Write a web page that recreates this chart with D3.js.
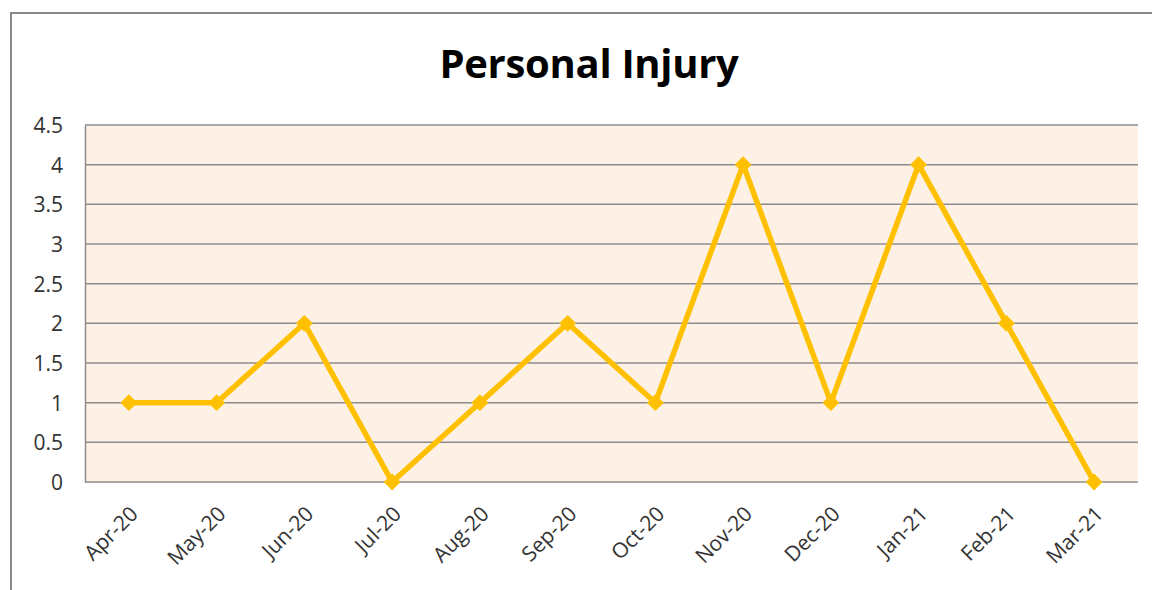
<!DOCTYPE html>
<html>
<head>
<meta charset="utf-8">
<script src="https://cdn.jsdelivr.net/npm/d3@7"></script>
<style>
  body { margin: 0; background: #fff; }
  svg { display: block; }
  .tick text { font-family: "Open Sans", "Liberation Sans", sans-serif; font-size: 21px; fill: #333; }
</style>
</head>
<body>
<div id="chart"></div>
<script>
// Chart data
const months = ["Apr-20", "May-20", "Jun-20", "Jul-20", "Aug-20", "Sep-20",
                "Oct-20", "Nov-20", "Dec-20", "Jan-21", "Feb-21", "Mar-21"];
const injuries = [1, 1, 2, 0, 1, 2, 1, 4, 1, 4, 2, 0];
const yTicks = [0, 0.5, 1, 1.5, 2, 2.5, 3, 3.5, 4, 4.5];

const W = 1152, H = 590;
const plot = {left: 85, right: 1138, top: 125, bottom: 482};

const svg = d3.select("#chart").append("svg")
    .attr("width", W)
    .attr("height", H);

// Outer chart border (runs off the right and bottom edges)
svg.append("rect")
    .attr("x", 11).attr("y", 13)
    .attr("width", 1160).attr("height", 600)
    .attr("fill", "none")
    .attr("stroke", "#8a8a8a")
    .attr("stroke-width", 2);

// Title
svg.append("text")
    .attr("x", 589).attr("y", 78)
    .attr("text-anchor", "middle")
    .style("font-family", "'Open Sans', 'Liberation Sans', sans-serif")
    .style("font-weight", "bold")
    .style("font-size", "40px")
    .style("letter-spacing", "-0.3px")
    .attr("fill", "#000")
    .text("Personal Injury");

const x = d3.scaleBand()
    .domain(months)
    .range([plot.left, plot.right]);

const y = d3.scaleLinear()
    .domain([0, 4.5])
    .range([plot.bottom, plot.top]);

// Plot background
svg.append("rect")
    .attr("x", plot.left).attr("y", plot.top)
    .attr("width", plot.right - plot.left)
    .attr("height", plot.bottom - plot.top)
    .attr("fill", "#fdf1e6");

// Gridlines
svg.append("g")
    .selectAll("line")
    .data(yTicks)
    .enter().append("line")
    .attr("x1", plot.left).attr("x2", plot.right)
    .attr("y1", d => y(d)).attr("y2", d => y(d))
    .attr("stroke", "#8c8c8c")
    .attr("stroke-width", 1.5);

// Y axis
const yAxis = svg.append("g")
    .attr("transform", `translate(${plot.left},0)`)
    .call(d3.axisLeft(y).tickValues(yTicks).tickSize(0).tickPadding(22).tickFormat(d3.format("")));
yAxis.select(".domain").attr("stroke", "#8c8c8c").attr("stroke-width", 1.5);
yAxis.selectAll("text").attr("dy", "0.35em");

// X axis
const xAxis = svg.append("g")
    .attr("transform", `translate(0,${plot.bottom})`)
    .call(d3.axisBottom(x).tickSize(0));
xAxis.select(".domain").remove();
xAxis.selectAll("text")
    .attr("text-anchor", "end")
    .attr("transform", "translate(3,26) rotate(-45)")
    .attr("dy", "0.35em");

// Line
const line = d3.line()
    .x((d, i) => x(months[i]) + x.bandwidth() / 2)
    .y(d => y(d));

svg.append("path")
    .datum(injuries)
    .attr("d", line)
    .attr("fill", "none")
    .attr("stroke", "#ffc000")
    .attr("stroke-width", 5.5)
    .attr("stroke-linejoin", "round");

// Diamond markers
svg.append("g")
    .selectAll("path")
    .data(injuries)
    .enter().append("path")
    .attr("d", d3.symbol().type(d3.symbolDiamond2).size(180))
    .attr("transform", (d, i) => `translate(${x(months[i]) + x.bandwidth() / 2},${y(d)})`)
    .attr("fill", "#ffc000");
</script>
</body>
</html>
